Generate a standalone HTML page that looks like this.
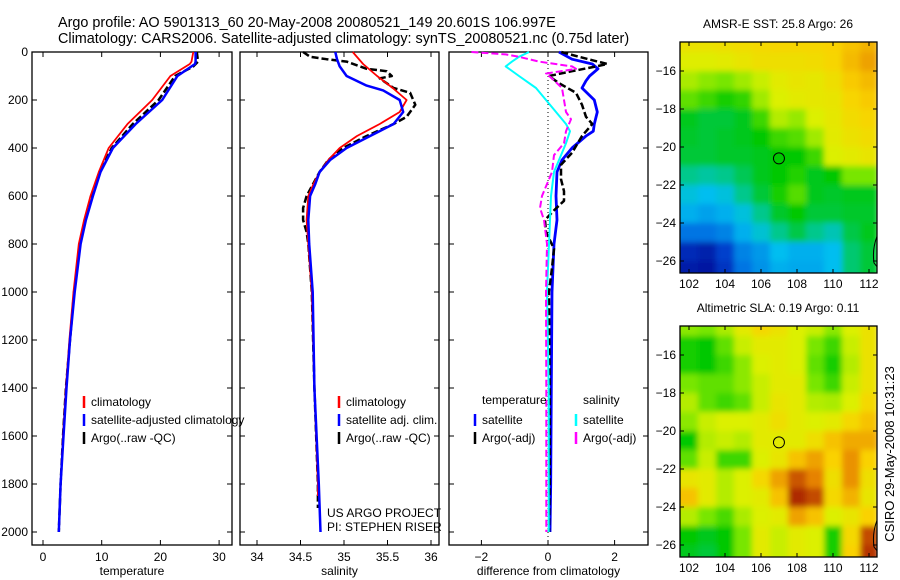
<!DOCTYPE html>
<html><head><meta charset="utf-8">
<style>
html,body{margin:0;padding:0;background:#fff;}
svg{display:block;font-family:"Liberation Sans",sans-serif;}
</style></head>
<body>
<svg id="fig" width="900" height="580" viewBox="0 0 900 580">
<defs>
<filter id="blur" x="-10%" y="-10%" width="120%" height="120%"><feGaussianBlur stdDeviation="3"/></filter>
<clipPath id="clipTop"><rect x="680" y="42" width="197" height="231"/></clipPath>
<clipPath id="clipBot"><rect x="680" y="326" width="197" height="231"/></clipPath>
</defs>
<text x="58" y="27" font-size="14.4">Argo profile: AO 5901313_60 20-May-2008 20080521_149 20.601S 106.997E</text>
<text x="58" y="43" font-size="14.4">Climatology: CARS2006. Satellite-adjusted climatology: synTS_20080521.nc (0.75d later)</text>
<g id="g"></g>
<text transform="translate(894,454) rotate(-90)" text-anchor="middle" font-size="13">CSIRO 29-May-2008 10:31:23</text>
</svg>
<script>
// ---- data ----
const depthT = [0,40,50,100,200,300,400,500,600,700,800,1000,1200,1400,1600,1800,2000];
const tempClim = [25.6,25.3,25.0,21.7,18.6,14.4,11.2,9.5,8.1,7.0,6.1,5.2,4.5,3.9,3.4,3.0,2.7];
const tempSat  = [26.0,26.0,25.9,22.9,20.3,15.8,11.9,9.8,8.5,7.3,6.4,5.4,4.6,4.0,3.5,3.0,2.7];
const depthTA  = [0,40,60,100,200,300,400,500,600,700,800,1000,1200,1400,1600,1800,2000];
const tempArgo = [26.2,26.4,25.6,22.5,19.7,15.3,11.7,9.7,8.3,7.1,6.3,5.3,4.6,3.9,3.4,3.0,2.7];

const depthS = [0,50,100,150,200,250,300,350,400,450,500,550,600,700,800,1000,1400,1800,1850];
const salClim = [35.10,35.22,35.38,35.56,35.72,35.64,35.41,35.15,34.95,34.82,34.72,34.65,34.59,34.57,34.59,34.63,34.66,34.70,34.70];
const depthSS = [0,30,60,100,140,160,200,250,300,350,400,450,500,550,600,700,800,1000,1400,1800,2000];
const salSat  = [34.90,34.92,34.95,35.03,35.26,35.45,35.64,35.68,35.57,35.30,35.03,34.84,34.72,34.67,34.61,34.59,34.60,34.64,34.66,34.71,34.73];
const depthSA = [0,20,30,40,70,80,100,110,150,170,220,270,300,350,400,450,500,600,650,700,750,800,1000,1400,1800,1900];
const salArgo = [34.53,34.61,34.80,35.03,35.26,35.49,35.55,35.41,35.57,35.76,35.82,35.72,35.57,35.26,34.99,34.82,34.72,34.57,34.53,34.53,34.57,34.59,34.63,34.66,34.70,34.70];

const depthD1 = [0,30,50,70,100,120,150,200,250,300,330,350,400,450,500,600,700,800,1000,1400,1800,2000];
const diffTSat = [0.33,0.72,1.33,1.50,1.25,1.14,1.02,1.39,1.48,1.39,1.36,1.14,0.72,0.42,0.27,0.24,0.27,0.18,0.12,0.10,0.08,0.06];
const depthD2 = [0,20,50,60,80,100,130,170,220,270,300,350,420,470,530,580,620,660,700,750,820,900,1000,1400,1800,2000];
const diffTArgo = [0.40,0.93,1.78,1.45,0.72,0.03,0.33,0.84,1.02,1.14,1.33,1.02,0.72,0.39,0.39,0.48,0.48,0.18,-0.09,-0.06,0.18,0.12,0.03,0.05,0.05,0.03];
const depthD3 = [0,20,40,60,100,150,200,250,300,330,380,430,500,600,800,1000,1400,2000];
const diffSSat = [-0.57,-0.87,-1.08,-1.27,-0.87,-0.36,-0.06,0.24,0.54,0.66,0.54,0.39,0.18,0.09,0.03,-0.03,0.02,0.02];
const depthD4 = [0,10,20,40,60,70,90,110,150,200,250,280,330,380,430,500,600,650,700,800,1000,1400,2000];
const diffSArgo = [-2.3,-1.27,-0.87,-0.27,0.72,0.84,-0.06,0.12,0.42,0.48,0.54,0.69,0.54,0.48,0.18,0.12,-0.18,-0.24,-0.12,-0.03,-0.06,-0.05,-0.05];

const depthTicks = [0,200,400,600,800,1000,1200,1400,1600,1800,2000];
const tempTicks = [0,10,20,30];
const salTicks = [34,34.5,35,35.5,36];
const diffTicks = [-2,0,2];
const lonTicks = [102,104,106,108,110,112];
const latTicks = [-16,-18,-20,-22,-24,-26];

// SST normalized field (rows: lat -14.5 .. -26.5, cols lon 101..112)
const sstGrid = [
[0.75,0.75,0.75,0.76,0.77,0.78,0.79,0.79,0.79,0.80,0.82,0.84],
[0.71,0.71,0.71,0.72,0.74,0.76,0.76,0.76,0.77,0.79,0.83,0.86],
[0.65,0.65,0.62,0.60,0.64,0.68,0.72,0.74,0.73,0.76,0.81,0.83],
[0.58,0.58,0.55,0.52,0.54,0.64,0.70,0.72,0.73,0.74,0.79,0.81],
[0.48,0.48,0.46,0.46,0.48,0.55,0.66,0.63,0.70,0.73,0.77,0.79],
[0.47,0.47,0.46,0.47,0.48,0.50,0.55,0.57,0.64,0.72,0.75,0.77],
[0.46,0.46,0.46,0.47,0.47,0.48,0.50,0.50,0.55,0.70,0.72,0.74],
[0.40,0.40,0.38,0.40,0.44,0.48,0.50,0.53,0.48,0.50,0.60,0.60],
[0.32,0.32,0.30,0.32,0.40,0.46,0.52,0.57,0.48,0.47,0.48,0.48],
[0.28,0.28,0.26,0.28,0.32,0.40,0.47,0.50,0.46,0.46,0.47,0.47],
[0.20,0.20,0.20,0.22,0.28,0.33,0.40,0.45,0.40,0.36,0.45,0.48],
[0.08,0.08,0.06,0.12,0.22,0.25,0.30,0.28,0.28,0.30,0.42,0.46],
[0.05,0.05,0.04,0.10,0.20,0.24,0.28,0.27,0.27,0.30,0.42,0.46]];
const slaGrid = [
[0.62,0.62,0.60,0.65,0.72,0.78,0.75,0.70,0.68,0.62,0.70,0.75],
[0.52,0.52,0.50,0.58,0.68,0.72,0.72,0.70,0.60,0.55,0.68,0.75],
[0.52,0.52,0.50,0.55,0.62,0.70,0.72,0.70,0.58,0.52,0.66,0.75],
[0.60,0.60,0.58,0.58,0.62,0.68,0.72,0.72,0.60,0.55,0.68,0.75],
[0.66,0.66,0.58,0.55,0.58,0.68,0.74,0.72,0.66,0.65,0.70,0.78],
[0.62,0.62,0.68,0.70,0.70,0.72,0.76,0.72,0.70,0.72,0.78,0.82],
[0.50,0.50,0.66,0.68,0.66,0.72,0.72,0.72,0.76,0.82,0.85,0.85],
[0.58,0.58,0.68,0.55,0.55,0.70,0.74,0.82,0.86,0.80,0.88,0.80],
[0.74,0.74,0.72,0.66,0.70,0.78,0.86,0.94,0.90,0.76,0.88,0.76],
[0.82,0.82,0.72,0.66,0.70,0.72,0.82,0.98,0.95,0.78,0.84,0.74],
[0.66,0.66,0.60,0.56,0.65,0.70,0.72,0.86,0.82,0.70,0.74,0.80],
[0.50,0.50,0.48,0.50,0.60,0.72,0.68,0.72,0.70,0.52,0.78,0.95],
[0.48,0.48,0.46,0.50,0.60,0.72,0.68,0.72,0.70,0.52,0.80,0.97]];
const argoLon = 106.997, argoLat = -20.601;

// ---- helpers ----
const NS="http://www.w3.org/2000/svg";
const G=document.getElementById('g');
function mk(tag,attrs,parent){const e=document.createElementNS(NS,tag);for(const k in attrs)e.setAttribute(k,attrs[k]);(parent||G).appendChild(e);return e;}
const yD = d => 52 + d*0.24;
const xT = t => 43 + t*5.87;
const xS = s => 257 + (s-34)*87;
const xDf = v => 548 + v*33.3;

function panel(x0,x1,name,xticks,xf,xlab,labelY){
  const g=mk('g',{});
  
  
  mk('rect',{x:x0,y:52,width:x1-x0,height:493,fill:'none',stroke:'#000','stroke-width':1.3},g);
  depthTicks.forEach(d=>{
    mk('line',{x1:x0,x2:x0+5,y1:yD(d),y2:yD(d),stroke:'#000'},g);
    mk('line',{x1:x1-5,x2:x1,y1:yD(d),y2:yD(d),stroke:'#000'},g);
    if(labelY){const t=mk('text',{x:x0-4,y:yD(d)+4,'text-anchor':'end','font-size':12},g);t.textContent=d;
      
      }
  });
  xticks.forEach(v=>{
    const x=xf(v);
    mk('line',{x1:x,x2:x,y1:545,y2:540,stroke:'#000'},g);
    mk('line',{x1:x,x2:x,y1:52,y2:57,stroke:'#000'},g);
    const t=mk('text',{x:x,y:561,'text-anchor':'middle','font-size':12},g);t.textContent=String(v).replace('-','\u2212');
    
    
  });
  const xl=mk('text',{x:(x0+x1)/2,y:575,'text-anchor':'middle','font-size':12},g);xl.textContent=xlab;
  
  
  return g;
}
function line(g,ds,vs,xf,color,w,dash,name){
  const pts=ds.map((d,i)=>xf(vs[i]).toFixed(1)+','+yD(d).toFixed(1)).join(' ');
  const p=mk('polyline',{points:pts,fill:'none',stroke:color,'stroke-width':w,'stroke-linejoin':'round'},g);
  if(dash)p.setAttribute('stroke-dasharray',dash);
  
  
}
function legend(g,x,y,items){
  items.forEach((it,i)=>{
    const yy=y+i*18;
    mk('line',{x1:x,x2:x,y1:yy-10,y2:yy+2,stroke:it[1],'stroke-width':2.5},g);
    const t=mk('text',{x:x+7,y:yy,'font-size':12},g);t.textContent=it[0];
    
    
  });
}

// Panel 1 temperature
const p1=panel(32,232,'temperature-panel',tempTicks,xT,'temperature',true);
line(p1,depthTA,tempArgo,xT,'#000',2.5,'7,3','argo-temperature-line');
line(p1,depthT,tempClim,xT,'#f00',1.8,null,'climatology-temperature-line');
line(p1,depthT,tempSat,xT,'#00f',2.5,null,'satellite-temperature-line');
legend(p1,84,406,[['climatology','#f00'],['satellite-adjusted climatology','#00f'],['Argo(..raw -QC)','#000']]);

// Panel 2 salinity
const p2=panel(240,439,'salinity-panel',salTicks,xS,'salinity',false);
line(p2,depthSA,salArgo,xS,'#000',2.5,'7,3','argo-salinity-line');
line(p2,depthS,salClim,xS,'#f00',1.8,null,'climatology-salinity-line');
line(p2,depthSS,salSat,xS,'#00f',2.5,null,'satellite-salinity-line');
legend(p2,339,406,[['climatology','#f00'],['satellite adj. clim.','#00f'],['Argo(..raw -QC)','#000']]);
[['US ARGO PROJECT',513],['PI: STEPHEN RISER',527]].forEach(a=>{const t=mk('text',{x:327,y:a[1]+4,'font-size':12},p2);t.textContent=a[0];
  
  });

// Panel 3 differences
const p3=panel(449,648,'difference-panel',diffTicks,xDf,'difference from climatology',false);
mk('line',{x1:xDf(0),x2:xDf(0),y1:52,y2:545,stroke:'#000','stroke-dasharray':'1,3'},p3);
line(p3,depthD1,diffTSat,xDf,'#00f',2.8,null,'satellite-temperature-diff-line');
line(p3,depthD2,diffTArgo,xDf,'#000',2.5,'7,3','argo-temperature-diff-line');
line(p3,depthD3,diffSSat,xDf,'#0ff',2,null,'satellite-salinity-diff-line');
line(p3,depthD4,diffSArgo,xDf,'#f0f',2,'7,3','argo-salinity-diff-line');
const th=mk('text',{x:482,y:404,'font-size':12},p3);th.textContent='temperature';


const sh=mk('text',{x:583,y:404,'font-size':12},p3);sh.textContent='salinity';


legend(p3,475,424,[['satellite','#00f'],['Argo(-adj)','#000']]);
legend(p3,576,424,[['satellite','#0ff'],['Argo(-adj)','#f0f']]);

// ---- maps ----
const stops=[[0,[0,0,140]],[0.15,[0,80,220]],[0.3,[0,190,240]],[0.4,[0,200,140]],[0.5,[0,200,0]],[0.6,[120,230,0]],[0.7,[220,240,0]],[0.8,[250,210,0]],[0.9,[230,130,0]],[1,[160,20,0]]];
function cmap(v){
  v=Math.max(0,Math.min(1,v));
  for(let i=1;i<stops.length;i++){if(v<=stops[i][0]){const a=stops[i-1],b=stops[i],f=(v-a[0])/(b[0]-a[0]);
    return 'rgb('+a[1].map((c,k)=>Math.round(c+(b[1][k]-c)*f)).join(',')+')';}}
  return 'rgb(160,20,0)';
}
const xLon = lon => 689 + (lon-102)*18;
function map(top,grid,title,name,clip){
  const yLat = lat => top+29 + (-16-lat)*19;
  const g=mk('g',{});
  
  
  const cg=mk('g',{'clip-path':'url(#'+clip+')'},g);
  const fg=mk('g',{filter:'url(#blur)'},cg);
  grid.forEach((row,r)=>row.forEach((v,c)=>{
    const lon=101+c, lat=-14.5-r;
    const cell=mk('rect',{x:xLon(lon-0.5),y:yLat(lat+0.5),width:18.6,height:19.6,fill:cmap(v)},fg);
    
    
  }));
  // coastline fragment at east edge
  mk('path',{d:'M877 '+yLat(-24.7)+' Q872 '+yLat(-25.4)+' 874 '+yLat(-26.1)+' L877 '+yLat(-26.3),fill:'none',stroke:'#000','stroke-width':1},cg);
  mk('rect',{x:680,y:top,width:197,height:231,fill:'none',stroke:'#000','stroke-width':1.3},g);
  lonTicks.forEach(l=>{const x=xLon(l);
    mk('line',{x1:x,x2:x,y1:top,y2:top+4,stroke:'#000'},g);
    mk('line',{x1:x,x2:x,y1:top+231,y2:top+227,stroke:'#000'},g);
    const t=mk('text',{x:x,y:top+246,'text-anchor':'middle','font-size':12},g);t.textContent=l;
    
    });
  latTicks.forEach(l=>{const y=yLat(l);
    mk('line',{x1:680,x2:684,y1:y,y2:y,stroke:'#000'},g);
    mk('line',{x1:877,x2:873,y1:y,y2:y,stroke:'#000'},g);
    const t=mk('text',{x:676,y:y+4,'text-anchor':'end','font-size':12},g);t.textContent='\u2212'+(-l);
    
    });
  const c=mk('circle',{cx:xLon(argoLon),cy:yLat(argoLat),r:5.5,fill:'none',stroke:'#000','stroke-width':1},g);
  
  
  const tt=mk('text',{x:778,y:top-14,'text-anchor':'middle','font-size':12},g);tt.textContent=title;
  
  
}
map(42,sstGrid,'AMSR-E SST: 25.8 Argo: 26','sst-map','clipTop');
map(326,slaGrid,'Altimetric SLA: 0.19 Argo: 0.11','sla-map','clipBot');
</script>
</body></html>
